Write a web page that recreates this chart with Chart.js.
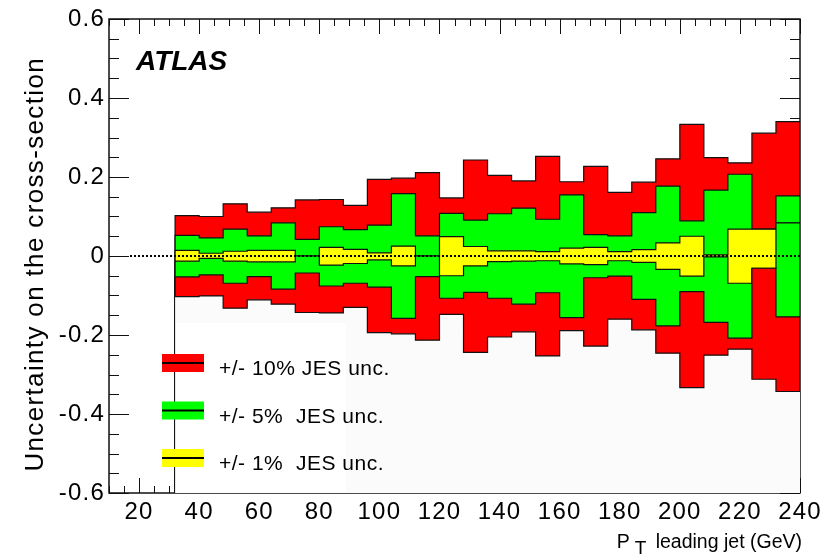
<!DOCTYPE html>
<html>
<head>
<meta charset="utf-8">
<script src="https://cdn.jsdelivr.net/npm/chart.js@4.4.1/dist/chart.umd.min.js"></script>
<style>
  html, body { margin: 0; padding: 0; background: #fff; }
</style>
</head>
<body>
<canvas id="grafico" width="831" height="555"></canvas>
<script>
// ===== DATA =====
// bin low edges (GeV), last value = upper edge of last bin
const binEdges = [32, 40, 48, 56, 64, 72, 80, 88, 96, 104, 112, 120, 128, 136, 144,
                  152, 160, 168, 176, 184, 192, 200, 208, 216, 224, 232, 240];

// the six histograms, drawn in this order, each filled from the bottom of the frame
const redUp = [0.102, 0.100, 0.132, 0.111, 0.122, 0.142, 0.143, 0.128, 0.194, 0.197, 0.211, 0.147, 0.243,
               0.204, 0.190, 0.252, 0.188, 0.227, 0.161, 0.187, 0.246, 0.333, 0.249, 0.236, 0.311, 0.340];
const greenUp = [0.052, 0.046, 0.068, 0.051, 0.084, 0.042, 0.074, 0.067, 0.078, 0.158, 0.051, 0.108, 0.091,
                 0.107, 0.121, 0.093, 0.155, 0.054, 0.051, 0.110, 0.177, 0.089, 0.167, 0.207, 0.068, 0.152];
const yellowUp = [0.014, 0.007, 0.012, 0.014, 0.014, 0.000, 0.022, 0.017, 0.008, 0.025, 0.000, 0.049, 0.024,
                  0.013, 0.013, 0.011, 0.020, 0.022, 0.011, 0.016, 0.033, 0.050, 0.003, 0.068, 0.068, 0.084];
const yellowDown = [-0.013, -0.006, -0.013, -0.015, -0.015, 0.000, -0.023, -0.019, -0.010, -0.025, 0.000, -0.050, -0.025,
                    -0.014, -0.013, -0.012, -0.020, -0.022, -0.012, -0.016, -0.034, -0.051, -0.002, -0.069, -0.031, 0.084];
const greenDown = [-0.053, -0.048, -0.069, -0.052, -0.084, -0.043, -0.076, -0.069, -0.079, -0.158, -0.052, -0.107, -0.092,
                   -0.107, -0.122, -0.093, -0.156, -0.055, -0.051, -0.110, -0.177, -0.090, -0.168, -0.208, -0.031, -0.154];
const redDown = [-0.103, -0.101, -0.132, -0.111, -0.122, -0.143, -0.144, -0.130, -0.194, -0.197, -0.213, -0.148, -0.244,
                 -0.205, -0.192, -0.253, -0.189, -0.228, -0.160, -0.187, -0.246, -0.333, -0.251, -0.236, -0.312, -0.343];

// dotted line at zero
const zeroLineX = [17, 240];

// axes
const xRange = [10, 240];
const yRange = [-0.6, 0.6];
const xTickValues = [20, 40, 60, 80, 100, 120, 140, 160, 180, 200, 220, 240];
const yTickValues = [-0.6, -0.4, -0.2, 0, 0.2, 0.4, 0.6];

const legendLabels = ["+/- 10% JES unc.", "+/- 5%  JES unc.", "+/- 1%  JES unc."];
const legendColors = ["#ff0000", "#00ff00", "#ffff00"];

const FONT = "'Liberation Sans', Arial, Helvetica, sans-serif";

// ===== HISTOGRAM POINTS =====
function histPoints(vals) {
    const last = binEdges.length - 1;
    const pts = [{ x: binEdges[0], y: yRange[0] }];
    vals.forEach((v, i) => pts.push({ x: binEdges[i], y: v }));
    pts.push({ x: binEdges[last], y: vals[vals.length - 1] });
    pts.push({ x: binEdges[last], y: yRange[0] });
    return pts;
}

function hist(label, vals, fillColor, order, hideEnds) {
    const n = vals.length + 3;
    return {
        label: label,
        data: histPoints(vals),
        stepped: true,
        fill: 'start',
        backgroundColor: fillColor,
        borderColor: '#111',
        borderWidth: 1.2,
        pointRadius: 0,
        order: order,
        segment: hideEnds ? {
            borderColor: c => (c.p0DataIndex === 0 || c.p1DataIndex === n - 1) ? 'rgba(0,0,0,0)' : '#111'
        } : undefined
    };
}

// ===== FRAME, TICKS, LEGEND, TEXT =====
const moldura = {
    id: 'moldura',
    beforeDraw(chart) {
        // tick labels of the scales are drawn a bit wider, like the original
        chart.ctx.letterSpacing = '1.2px';
    },
    beforeDatasetsDraw(chart) {
        const ctx = chart.ctx;
        const a = chart.chartArea;
        const sx = chart.scales.x, sy = chart.scales.y;
        ctx.save();
        ctx.letterSpacing = '0px';
        ctx.strokeStyle = '#111';
        ctx.lineWidth = 1;
        ctx.beginPath();
        for (let v = xRange[0]; v <= xRange[1] + 0.001; v += 5) {
            const px = Math.round(sx.getPixelForValue(v)) + 0.5;
            const major = Math.abs(v % 20) < 0.001;
            ctx.moveTo(px, a.top); ctx.lineTo(px, a.top + (major ? 15 : 7));
            ctx.moveTo(px, a.bottom); ctx.lineTo(px, a.bottom - (major ? 15 : 7));
        }
        for (let k = 0; k <= 24; k++) {
            const v = yRange[0] + k * 0.05;
            const py = Math.round(sy.getPixelForValue(v)) + 0.5;
            const major = k % 4 === 0;
            ctx.moveTo(a.left, py); ctx.lineTo(a.left + (major ? 20 : 10), py);
            ctx.moveTo(a.right, py); ctx.lineTo(a.right - (major ? 20 : 10), py);
        }
        ctx.stroke();
        ctx.lineWidth = 1.5;
        ctx.strokeRect(a.left, a.top, a.right - a.left, a.bottom - a.top);
        ctx.restore();
    },
    afterDatasetsDraw(chart) {
        const ctx = chart.ctx;
        ctx.save();
        ctx.letterSpacing = '0px';

        // legend box
        ctx.fillStyle = '#ffffff';
        ctx.fillRect(176, 323, 170, 169);

        legendLabels.forEach((t, i) => {
            const cy = 363 + i * 47.5;
            ctx.fillStyle = legendColors[i];
            ctx.fillRect(162, cy - 9, 42, 18);
            ctx.strokeStyle = '#000';
            ctx.lineWidth = 2;
            ctx.beginPath();
            ctx.moveTo(162, cy); ctx.lineTo(204, cy);
            ctx.stroke();
            ctx.fillStyle = '#000';
            ctx.font = '21px ' + FONT;
            ctx.letterSpacing = '0.5px';
            ctx.textAlign = 'left';
            ctx.textBaseline = 'alphabetic';
            ctx.fillText(t, 219, cy + 12);
        });

        // ATLAS
        ctx.letterSpacing = '0px';
        ctx.font = 'italic bold 28px ' + FONT;
        ctx.fillStyle = '#000';
        ctx.textAlign = 'left';
        ctx.fillText('ATLAS', 136, 70);

        // x title with subscript
        ctx.font = '19.5px ' + FONT;
        ctx.textAlign = 'right';
        const rest = 'leading jet (GeV)';
        ctx.fillText(rest, 802, 548);
        const start = 802 - ctx.measureText(rest).width;
        ctx.textAlign = 'left';
        ctx.fillText('P', start - 39, 548);
        ctx.font = '19px ' + FONT;
        ctx.fillText('T', start - 21, 554);

        // y title
        ctx.translate(43, 57);
        ctx.rotate(-Math.PI / 2);
        ctx.font = '26px ' + FONT;
        ctx.letterSpacing = '1.35px';
        ctx.textAlign = 'right';
        ctx.fillText('Uncertainty on the cross-section', 0, 0);
        ctx.restore();
    }
};

// ===== CHART =====
const ctx = document.getElementById('grafico').getContext('2d');

window.grafico = new Chart(ctx, {
    type: 'line',
    data: {
        datasets: [
            hist('+/- 10% up', redUp, '#ff0000', 7, false),
            hist('+/- 5% up', greenUp, '#00ff00', 6, false),
            hist('+/- 1% up', yellowUp, '#ffff00', 5, false),
            hist('+/- 1% down', yellowDown, '#00ff00', 4, false),
            hist('+/- 5% down', greenDown, '#ff0000', 3, false),
            hist('+/- 10% down', redDown, '#fbfbfb', 2, true),
            {
                label: 'zero',
                data: zeroLineX.map(x => ({ x: x, y: 0 })),
                borderColor: '#000',
                borderWidth: 2,
                borderDash: [2, 2],
                pointRadius: 0,
                fill: false,
                order: 1
            }
        ]
    },
    options: {
        responsive: false,
        animation: false,
        devicePixelRatio: 1,
        events: [],
        layout: { padding: { left: 0, right: 31, top: 19, bottom: 0 } },
        plugins: {
            legend: { display: false },
            tooltip: { enabled: false }
        },
        scales: {
            x: {
                type: 'linear',
                min: xRange[0],
                max: xRange[1],
                afterBuildTicks: s => { s.ticks = xTickValues.map(v => ({ value: v })); },
                afterFit: s => { s.height = 62; },
                grid: { display: false, drawTicks: false },
                border: { display: false },
                ticks: {
                    autoSkip: false,
                    maxRotation: 0,
                    padding: 5,
                    color: '#000',
                    font: { family: FONT, size: 24 }
                }
            },
            y: {
                type: 'linear',
                min: yRange[0],
                max: yRange[1],
                afterBuildTicks: s => { s.ticks = yTickValues.map(v => ({ value: v })); },
                afterFit: s => { s.width = 109; },
                grid: { display: false, drawTicks: false },
                border: { display: false },
                ticks: {
                    autoSkip: false,
                    padding: 4,
                    color: '#000',
                    font: { family: FONT, size: 24 },
                    callback: v => Math.abs(v) < 1e-9 ? '0' : v.toFixed(1)
                }
            }
        }
    },
    plugins: [moldura]
});
</script>
</body>
</html>
